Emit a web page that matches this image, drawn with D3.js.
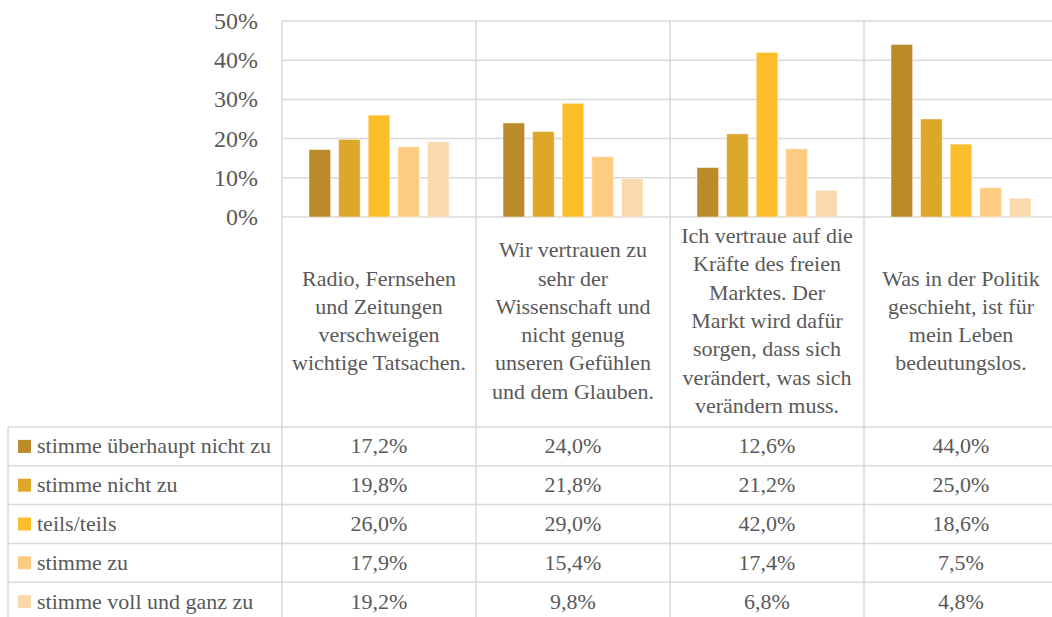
<html>
<head>
<meta charset="utf-8">
</head>
<body style="margin:0">
<svg id="chart" width="1052" height="617"></svg>
<script src="https://d3js.org/d3.v7.min.js"></script>
<script>
    // categories (label lines as shown in the chart)
    var categories = ["c1", "c2", "c3", "c4"];
    var categoryLines = [
        ["Radio, Fernsehen", "und Zeitungen", "verschweigen", "wichtige Tatsachen."],
        ["Wir vertrauen zu", "sehr der", "Wissenschaft und", "nicht genug", "unseren Gefühlen", "und dem Glauben."],
        ["Ich vertraue auf die", "Kräfte des freien", "Marktes. Der", "Markt wird dafür", "sorgen, dass sich", "verändert, was sich", "verändern muss."],
        ["Was in der Politik", "geschieht, ist für", "mein Leben", "bedeutungslos."]
    ];
    var seriesNames = ["stimme überhaupt nicht zu", "stimme nicht zu", "teils/teils", "stimme zu", "stimme voll und ganz zu"];
    var seriesColors = ["#BC8B29", "#DDA72A", "#FDBE2C", "#FECB83", "#FADAAD"];
    // values in percent, one array per series (category order)
    var sUeberhauptNicht = [17.2, 24.0, 12.6, 44.0];
    var sNicht = [19.8, 21.8, 21.2, 25.0];
    var sTeils = [26.0, 29.0, 42.0, 18.6];
    var sZu = [17.9, 15.4, 17.4, 7.5];
    var sVoll = [19.2, 9.8, 6.8, 4.8];
    var seriesValues = [sUeberhauptNicht, sNicht, sTeils, sZu, sVoll];
    var yTicks = [0, 10, 20, 30, 40, 50];

    var svg = d3.select("#chart");
    var textColor = "#595959";
    var gridColor = "#d9d9d9";

    var plotLeft = 282, plotTop = 21, plotBottom = 217, colW = 194;
    var tableLeft = 8, tableTop = 427, rowH = 38.8;

    var x = d3.scaleBand().domain(categories).range([plotLeft, plotLeft + colW * 4]);
    var x1 = d3.scaleBand().domain(seriesNames).range([27, 167]).paddingInner(0.27);
    var y = d3.scaleLinear().domain([0, 50]).range([plotBottom, plotTop]);
    var rowY = d3.scaleBand().domain(seriesNames).range([tableTop, tableTop + rowH * 5]);

    var de = d3.formatLocale({decimal: ",", thousands: ".", grouping: [3], currency: ["", "€"]});
    var fmt = de.format(".1f");

    // gridlines
    svg.append("g").selectAll("line").data(yTicks).join("line")
        .attr("x1", plotLeft).attr("x2", 1052)
        .attr("y1", d => y(d)).attr("y2", d => y(d))
        .attr("stroke", gridColor).attr("stroke-width", 1.5);

    // vertical dividers (plot + label area + table)
    var divs = categories.map(c => x(c));
    svg.append("g").selectAll("line").data(divs).join("line")
        .attr("x1", d => d).attr("x2", d => d)
        .attr("y1", plotTop).attr("y2", 617)
        .attr("stroke", gridColor).attr("stroke-width", 1.5);

    // table horizontal lines and left border
    var rowLines = seriesNames.map(s => rowY(s));
    svg.append("g").selectAll("line").data(rowLines).join("line")
        .attr("x1", tableLeft).attr("x2", 1052)
        .attr("y1", d => d).attr("y2", d => d)
        .attr("stroke", gridColor).attr("stroke-width", 1.5);
    svg.append("line")
        .attr("x1", tableLeft).attr("x2", tableLeft)
        .attr("y1", tableTop).attr("y2", 617)
        .attr("stroke", gridColor).attr("stroke-width", 1.5);

    // bars
    seriesNames.forEach(function(s, si) {
        svg.append("g").selectAll("rect").data(seriesValues[si]).join("rect")
            .attr("x", (d, i) => x(categories[i]) + x1(s))
            .attr("y", d => y(d))
            .attr("width", x1.bandwidth())
            .attr("height", d => y(0) - y(d))
            .attr("fill", seriesColors[si])
            .attr("stroke", "#fff")
            .attr("stroke-opacity", 0.45)
            .attr("stroke-width", 1);
    });

    // y axis labels
    svg.selectAll("text.ytick").data(yTicks).join("text")
        .attr("class", "ytick")
        .attr("x", 258).attr("y", d => y(d) + 8)
        .attr("text-anchor", "end")
        .attr("fill", textColor)
        .attr("font-family", "Liberation Serif")
        .style("font-size", "24px")
        .text(d => d + "%");

    // category labels
    var lineH = 28.3;
    var labelMid = 321;
    categories.forEach(function(c, ci) {
        var lines = categoryLines[ci];
        svg.selectAll("text.cat" + ci).data(lines).join("text")
            .attr("class", "cat" + ci)
            .attr("x", x(c) + colW / 2)
            .attr("y", (l, li) => labelMid + (li - (lines.length - 1) / 2) * lineH + 7)
            .attr("text-anchor", "middle")
            .attr("fill", textColor)
            .attr("font-family", "Liberation Serif")
            .style("font-size", "22px")
            .text(l => l);
    });

    // table: legend keys, names and values
    seriesNames.forEach(function(s, si) {
        var cy = rowY(s) + rowH / 2;
        svg.append("rect")
            .attr("x", 18).attr("y", cy - 6.5)
            .attr("width", 13).attr("height", 13)
            .attr("fill", seriesColors[si]);
        svg.append("text")
            .attr("x", 37).attr("y", cy + 7)
            .attr("fill", textColor)
            .attr("font-family", "Liberation Serif")
            .style("font-size", "22px")
            .text(s);
        svg.selectAll("text.val" + si).data(seriesValues[si]).join("text")
            .attr("class", "val" + si)
            .attr("x", (d, i) => x(categories[i]) + colW / 2)
            .attr("y", cy + 7)
            .attr("text-anchor", "middle")
            .attr("fill", textColor)
            .attr("font-family", "Liberation Serif")
            .style("font-size", "22px")
            .text(d => fmt(d) + "%");
    });
</script>
</body>
</html>
